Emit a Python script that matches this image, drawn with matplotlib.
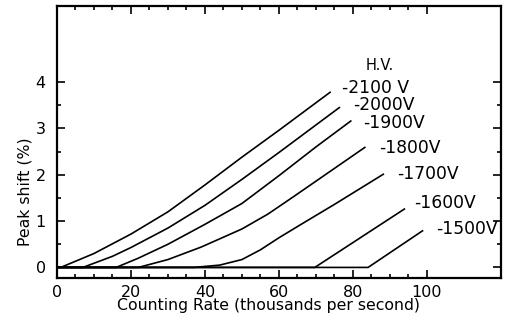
import matplotlib
matplotlib.use("Agg")
import matplotlib.pyplot as plt
import numpy as np

# peak shift (%) against counting rate (thousands/s) for each tube voltage
voltages = ["-2100 V", "-2000V", "-1900V", "-1800V", "-1700V", "-1600V", "-1500V"]

rate_2100 = [0, 1, 10, 20, 30, 40, 50, 60, 74]
shift_2100 = [0, 0, 0.3, 0.72, 1.2, 1.78, 2.38, 2.96, 3.79]
rate_2000 = [0, 7, 15, 20, 30, 40, 50, 60, 76.5]
shift_2000 = [0, 0, 0.24, 0.43, 0.85, 1.34, 1.9, 2.48, 3.46]
rate_1900 = [0, 16, 22, 30, 40, 50, 60, 70, 79.6]
shift_1900 = [0, 0, 0.2, 0.5, 0.93, 1.38, 1.98, 2.6, 3.17]
rate_1800 = [0, 22, 30, 39, 50, 57, 64, 83.4]
shift_1800 = [0, 0, 0.17, 0.44, 0.83, 1.15, 1.53, 2.6]
rate_1700 = [0, 37, 44, 50, 55, 60, 66, 75, 88.4]
shift_1700 = [0, 0, 0.05, 0.17, 0.38, 0.64, 0.93, 1.36, 2.02]
rate_1600 = [0, 69.7, 94.1]
shift_1600 = [0, 0, 1.27]
rate_1500 = [0, 84.1, 99]
shift_1500 = [0, 0, 0.8]

rates = [rate_2100, rate_2000, rate_1900, rate_1800, rate_1700, rate_1600, rate_1500]
shifts = [shift_2100, shift_2000, shift_1900, shift_1800, shift_1700, shift_1600, shift_1500]

# where each voltage label sits (left edge, vertical centre)
label_x = [77, 80, 82.7, 87, 92, 96.5, 102.4]
label_y = [3.88, 3.51, 3.12, 2.58, 2.01, 1.40, 0.82]

fig = plt.figure(figsize=(5.12, 3.2), dpi=100)
ax = fig.add_axes([0.1113, 0.131, 0.867, 0.85])

for x, y in zip(rates, shifts):
    ax.plot(x, y, color="black", lw=1.2, solid_capstyle="butt")

for name, lx, ly in zip(voltages, label_x, label_y):
    ax.text(lx, ly, name, ha="left", va="center", fontsize=12.3)
ax.text(87.3, 4.36, "H.V.", ha="center", va="center", fontsize=10.5)

ax.set_xlim(0, 120)
ax.set_ylim(-0.23, 5.64)

ax.set_xticks(np.arange(0, 101, 20))
ax.set_xticks(np.arange(0, 101, 5), minor=True)
ax.set_yticks(np.arange(0, 5, 1))
ax.set_yticks(np.arange(0, 4.01, 0.5), minor=True)
ax.tick_params(which="both", direction="in", top=True, right=True,
               labelsize=11.5, width=1.2)
ax.tick_params(which="major", length=6, pad=5)
ax.tick_params(which="minor", length=3)
ax.tick_params(axis="y", pad=8)

for s in ax.spines.values():
    s.set_linewidth(1.6)

ax.set_xlabel("Counting Rate (thousands per second)", fontsize=11.3)
ax.set_ylabel("Peak shift (%)", fontsize=11.3)
ax.xaxis.set_label_coords(0.476, -0.075)
ax.yaxis.set_label_coords(-0.056, 0.316)

fig.savefig("out.png", dpi=100)
